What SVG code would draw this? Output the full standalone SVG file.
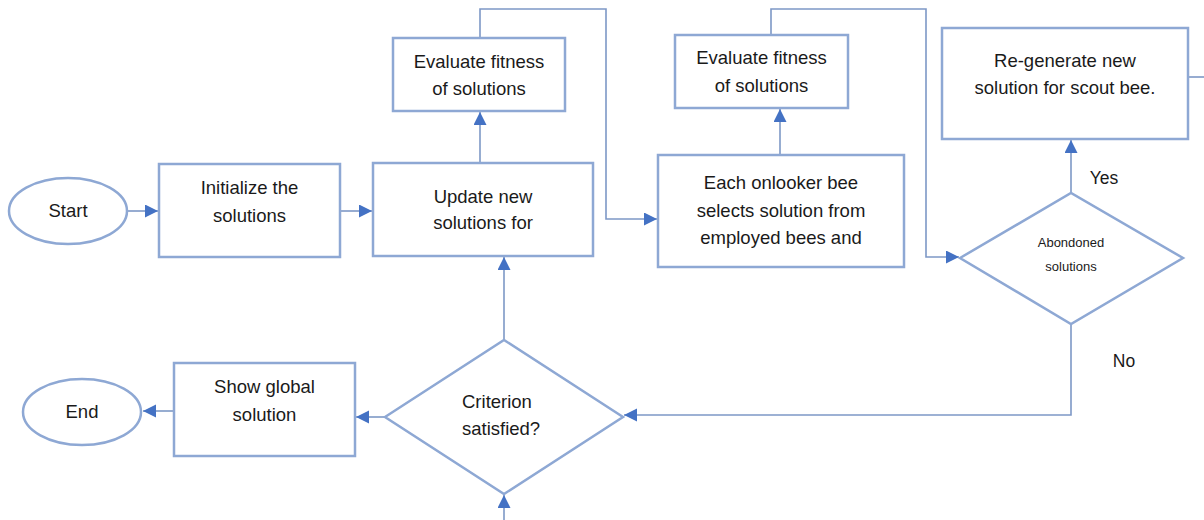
<svg xmlns="http://www.w3.org/2000/svg" width="1204" height="520" viewBox="0 0 1204 520">
<defs>
<style>
.shape{fill:#ffffff;stroke:#8EA8D4;stroke-width:2.5}
.conn{fill:none;stroke:#7D98C6;stroke-width:1.6}
.t{font-family:"Liberation Sans",Arial,sans-serif;font-size:18.5px;fill:#1a1a1a;text-anchor:middle}
.s{font-size:13px}
.l{font-size:17.5px}
</style>
<marker id="ah" markerUnits="userSpaceOnUse" markerWidth="14" markerHeight="14" refX="13" refY="6.5" orient="auto">
<path d="M0,0 L13,6.5 L0,13 z" fill="#4472C4"/>
</marker>
</defs>
<rect width="1204" height="520" fill="#ffffff"/>
<g id="connectors">
<path class="conn" d="M128,211 H158" marker-end="url(#ah)"/>
<path class="conn" d="M340,211 H372" marker-end="url(#ah)"/>
<path class="conn" d="M480,163 V112" marker-end="url(#ah)"/>
<path class="conn" d="M480,38 V9 H606 V219 H657" marker-end="url(#ah)"/>
<path class="conn" d="M780,155 V109" marker-end="url(#ah)"/>
<path class="conn" d="M771,35 V9 H926 V257 H959" marker-end="url(#ah)"/>
<path class="conn" d="M1071,193 V140" marker-end="url(#ah)"/>
<path class="conn" d="M1188,77 H1204"/>
<path class="conn" d="M1071,324 V415 H624" marker-end="url(#ah)"/>
<path class="conn" d="M385,417 H356" marker-end="url(#ah)"/>
<path class="conn" d="M174,411 H143" marker-end="url(#ah)"/>
<path class="conn" d="M504,520 V495" marker-end="url(#ah)"/>
<path class="conn" d="M504,340 V257" marker-end="url(#ah)"/>
</g>
<g id="start">
<ellipse class="shape" cx="68" cy="211" rx="59" ry="33"/>
<text class="t" x="68" y="217">Start</text>
</g>
<g id="init">
<rect class="shape" x="159" y="164" width="181" height="93"/>
<text class="t" x="249.5" y="194">Initialize the</text>
<text class="t" x="249.5" y="222">solutions</text>
</g>
<g id="update">
<rect class="shape" x="373" y="163" width="220" height="93"/>
<text class="t" x="483" y="203">Update new</text>
<text class="t" x="483" y="229">solutions for</text>
</g>
<g id="eval1">
<rect class="shape" x="393" y="38" width="172" height="73"/>
<text class="t" x="479" y="68">Evaluate fitness</text>
<text class="t" x="479" y="95">of solutions</text>
</g>
<g id="onlooker">
<rect class="shape" x="658" y="155" width="246" height="112"/>
<text class="t" x="781" y="189">Each onlooker bee</text>
<text class="t" x="781" y="217">selects solution from</text>
<text class="t" x="781" y="244">employed bees and</text>
</g>
<g id="eval2">
<rect class="shape" x="675" y="35" width="173" height="73"/>
<text class="t" x="761.5" y="64">Evaluate fitness</text>
<text class="t" x="761.5" y="92">of solutions</text>
</g>
<g id="regen">
<rect class="shape" x="942" y="28" width="246" height="111"/>
<text class="t" x="1065" y="67">Re-generate new</text>
<text class="t" x="1065" y="94">solution for scout bee.</text>
</g>
<g id="abandoned">
<polygon class="shape" points="960,258 1071,193 1183,258 1071,324"/>
<text class="t s" x="1071" y="247">Abondoned</text>
<text class="t s" x="1071" y="271">solutions</text>
<text class="t l" x="1104" y="184">Yes</text>
<text class="t l" x="1124" y="367">No</text>
</g>
<g id="criterion">
<polygon class="shape" points="385,417 504,340 623,417 504,494"/>
<text class="t" x="462" y="408" style="text-anchor:start">Criterion</text>
<text class="t" x="462" y="435" style="text-anchor:start">satisfied?</text>
</g>
<g id="show">
<rect class="shape" x="174" y="363" width="181" height="93"/>
<text class="t" x="264.5" y="393">Show global</text>
<text class="t" x="264.5" y="421">solution</text>
</g>
<g id="end">
<ellipse class="shape" cx="82" cy="412" rx="59" ry="33"/>
<text class="t" x="82" y="418">End</text>
</g>
</svg>
